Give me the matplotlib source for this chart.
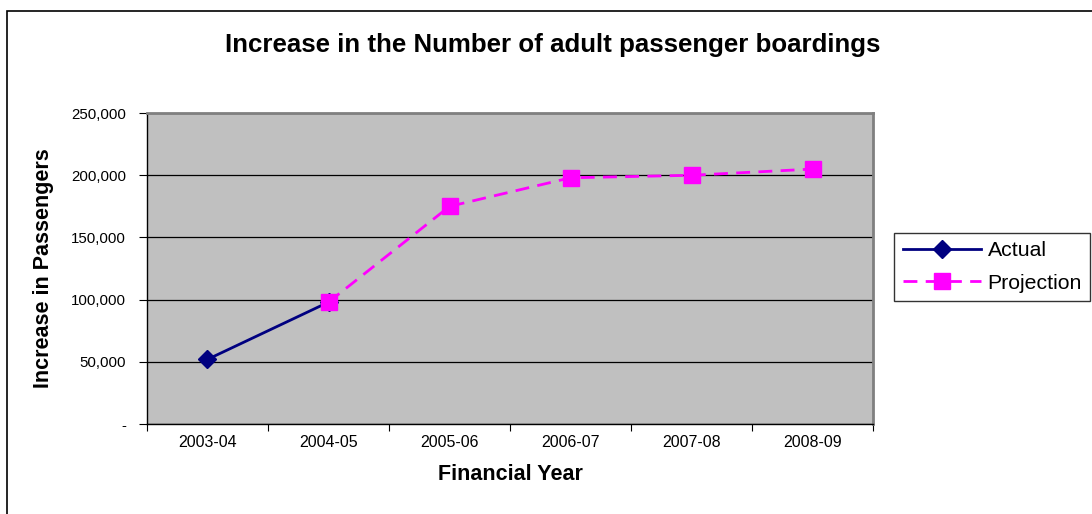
import numpy as np
import matplotlib.pyplot as plt
from matplotlib.patches import Rectangle
from matplotlib.ticker import FuncFormatter

plt.rcParams['font.family'] = ['Liberation Sans', 'DejaVu Sans']

# data
years = ["2003-04", "2004-05", "2005-06", "2006-07", "2007-08", "2008-09"]
actual = [52000, 98000]
projection = [98000, 175000, 198000, 200000, 205000]

fig = plt.figure(figsize=(10.92, 5.14), dpi=100)
ax = fig.add_axes([0.1346, 0.175, 0.665, 0.605])

# outer chart border
fig.patches.append(Rectangle((7 / 1092, -0.1), 1.2, (514 - 11) / 514 + 0.1,
                             transform=fig.transFigure, fill=False,
                             edgecolor='black', linewidth=1.2))

x = np.arange(len(years))
ax.set_facecolor('#C0C0C0')
ax.plot(x[:2], actual, color='#000080', linewidth=2, marker='D',
        markersize=9, label='Actual', zorder=3)
ax.plot(x[1:], projection, color='#FF00FF', linewidth=2, linestyle=(0, (5, 3)),
        marker='s', markersize=11, label='Projection', zorder=3)

ax.set_xlim(-0.5, len(years) - 0.5)
ax.set_ylim(0, 250000)
ax.set_yticks(np.arange(0, 250001, 50000))
ax.yaxis.set_major_formatter(FuncFormatter(lambda v, p: '-' if v == 0 else f'{int(v):,}'))
ax.grid(axis='y', color='black', linewidth=0.9)
ax.set_axisbelow(True)

ax.set_xticks(np.arange(-0.5, len(years)), minor=False)
ax.set_xticklabels([])
ax.set_xticks(x, minor=True)
ax.set_xticklabels(years, minor=True)
ax.tick_params(axis='x', which='major', direction='out', length=5, color='black')
ax.tick_params(axis='x', which='minor', length=0, labelsize=11.5, pad=8)
ax.tick_params(axis='y', direction='out', length=6, labelsize=10.8, pad=9)

for s in ['top', 'right']:
    ax.spines[s].set_color('#808080')
    ax.spines[s].set_linewidth(2)
for s in ['left', 'bottom']:
    ax.spines[s].set_color('black')
    ax.spines[s].set_linewidth(1)

ax.set_xlabel('Financial Year', fontsize=15.5, fontweight='bold', labelpad=10)
ax.set_ylabel('Increase in Passengers', fontsize=15.5, fontweight='bold', labelpad=12)
fig.text(553 / 1092, 1 - 45 / 514, 'Increase in the Number of adult passenger boardings',
         ha='center', va='center', fontsize=18.6, fontweight='bold')

leg = fig.legend(loc='center left', bbox_to_anchor=(894 / 1092, 1 - 267 / 514),
                 fontsize=15.3, frameon=True, fancybox=False, edgecolor='black',
                 handlelength=3.7, borderpad=0.4, labelspacing=0.65, handletextpad=0.3,
                 borderaxespad=0)
leg.get_frame().set_linewidth(1)

fig.savefig('out.png', dpi=100)
